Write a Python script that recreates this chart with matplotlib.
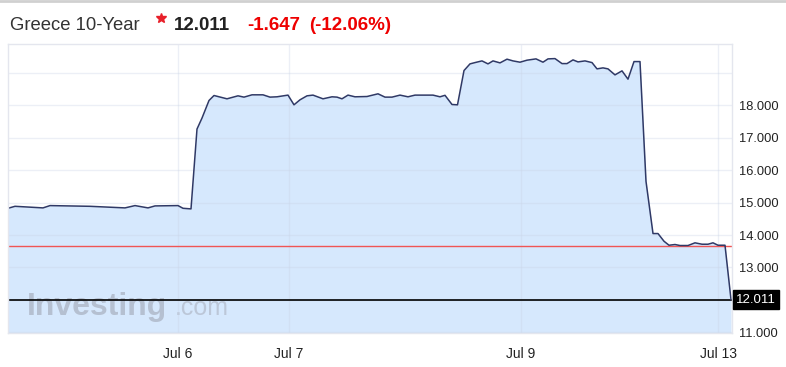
import matplotlib
matplotlib.use("Agg")
import matplotlib.pyplot as plt
from matplotlib.lines import Line2D
from matplotlib import transforms

plt.rcParams['font.family'] = ['Liberation Sans', 'DejaVu Sans']

# ---- data ----
t = [0, 7, 35, 42, 82, 117, 127, 140, 147, 170, 175, 183, 189, 194, 201, 206,
     219, 230, 236, 244, 255, 262, 269, 280, 286, 292, 299, 305, 315, 324, 329,
     334, 340, 347, 359, 370, 377, 384, 392, 400, 407, 425, 432, 437, 444, 449.5,
     456, 462, 467, 474, 480, 485, 492, 499, 505, 512, 519, 528, 535, 540, 547,
     554, 559, 565, 570, 577, 584, 589, 595, 600, 607, 614, 620, 626, 632, 638,
     645, 650, 656, 661, 667, 672, 680, 687, 694, 700, 705, 710, 717, 723]
yields = [14.825, 14.886, 14.837, 14.908, 14.886, 14.837, 14.908, 14.837, 14.898,
          14.908, 14.825, 14.806, 17.268, 17.606, 18.148, 18.302, 18.200, 18.292,
          18.252, 18.323, 18.323, 18.252, 18.262, 18.314, 18.015, 18.169, 18.292,
          18.314, 18.200, 18.262, 18.252, 18.200, 18.314, 18.262, 18.271, 18.354,
          18.252, 18.252, 18.314, 18.262, 18.314, 18.314, 18.262, 18.308, 18.025,
          18.015, 19.071, 19.277, 19.317, 19.369, 19.277, 19.369, 19.308, 19.422,
          19.369, 19.329, 19.391, 19.431, 19.329, 19.431, 19.440, 19.286, 19.286,
          19.400, 19.338, 19.369, 19.317, 19.123, 19.154, 19.123, 18.938, 19.062,
          18.806, 19.348, 19.348, 15.655, 14.046, 14.046, 13.809, 13.686, 13.708,
          13.677, 13.677, 13.760, 13.717, 13.717, 13.760, 13.686, 13.686, 12.011]
date_pos = [170, 281, 513, 710]
date_labels = ['Jul 6', 'Jul 7', 'Jul 9', 'Jul 13']
ytick_vals = [11, 12, 13, 14, 15, 16, 17, 18, 19]
ytick_labels = ['11.000', '', '13.000', '14.000', '15.000', '16.000', '17.000', '18.000', '']
prev_close = 13.658
last = 12.011
change = '-1.647'
change_pct = '(-12.06%)'
title = 'Greece 10-Year'

W, H = 786, 367
fig = plt.figure(figsize=(W / 100, H / 100), dpi=100)
fig.patch.set_facecolor('white')
ax = fig.add_axes([8 / W, 1 - 333 / H, 724 / W, 289 / H])
ax.set_facecolor('white')

ax.fill_between(t, yields, 10, color='#d6e8fd', zorder=1, linewidth=0)
ax.plot(t, yields, color='#2f3966', linewidth=1.1, zorder=4)
ax.axhline(prev_close, color='#f05555', linewidth=1.0, zorder=3)
ax.axhline(last, color='black', linewidth=1.2, zorder=3)

ax.set_xlim(0, 724)
ax.set_ylim(10.98, 19.89)
ax.set_xticks(date_pos)
ax.set_xticklabels(date_labels, fontsize=10, color='#222222')
ax.set_yticks(ytick_vals)
ax.set_yticklabels(ytick_labels, fontsize=9.3, color='#222222')
ax.yaxis.tick_right()
ax.tick_params(axis='both', length=0)
ax.tick_params(axis='x', pad=10)
ax.tick_params(axis='y', pad=5)
ax.grid(True, color='#c9d3e6', alpha=0.35, linewidth=1.0, zorder=2)
ax.set_axisbelow(False)
for s in ax.spines.values():
    s.set_color('#e4e6ee')
    s.set_linewidth(1.0)
    s.set_zorder(5)

# last value box
trans = transforms.blended_transform_factory(ax.transAxes, ax.transData)
ax.text(1.0 + 4 / 724, last, f'{last:.3f}', transform=trans, ha='left', va='center',
        fontsize=9.5, color='white', zorder=10, clip_on=False,
        bbox=dict(boxstyle='square,pad=0.25', facecolor='black', edgecolor='black'))

# watermark
ax.text(19 / 724, 0.063, 'Investing', transform=ax.transAxes, fontsize=23,
        fontweight='bold', color='#b5c0d1', zorder=2.5, ha='left', va='baseline')
ax.text(167 / 724, 0.063, '.com', transform=ax.transAxes, fontsize=18,
        color='#bcc7d8', zorder=2.5, ha='left', va='baseline')

# header
yb = 1 - 30 / H
fig.text(10 / W, yb, title, fontsize=13.3, color='#333333', va='baseline')
fig.add_artist(Line2D([161 / W], [1 - 18 / H], marker='*', markersize=7,
                      color='#e8202a', linestyle='none'))
fig.text(174 / W, yb, f'{last:.3f}', fontsize=13.5, fontweight='bold', color='#222222',
         va='baseline')
fig.text(247 / W, yb, change, fontsize=13.5, fontweight='bold', color='#ee0000',
         va='baseline')
fig.text(309 / W, yb, change_pct, fontsize=13.5, fontweight='bold', color='#ee0000',
         va='baseline')
fig.add_artist(Line2D([0, 1], [1 - 1 / H, 1 - 1 / H], color='#d0d0d0', linewidth=2))

fig.savefig('out.png', dpi=100)
